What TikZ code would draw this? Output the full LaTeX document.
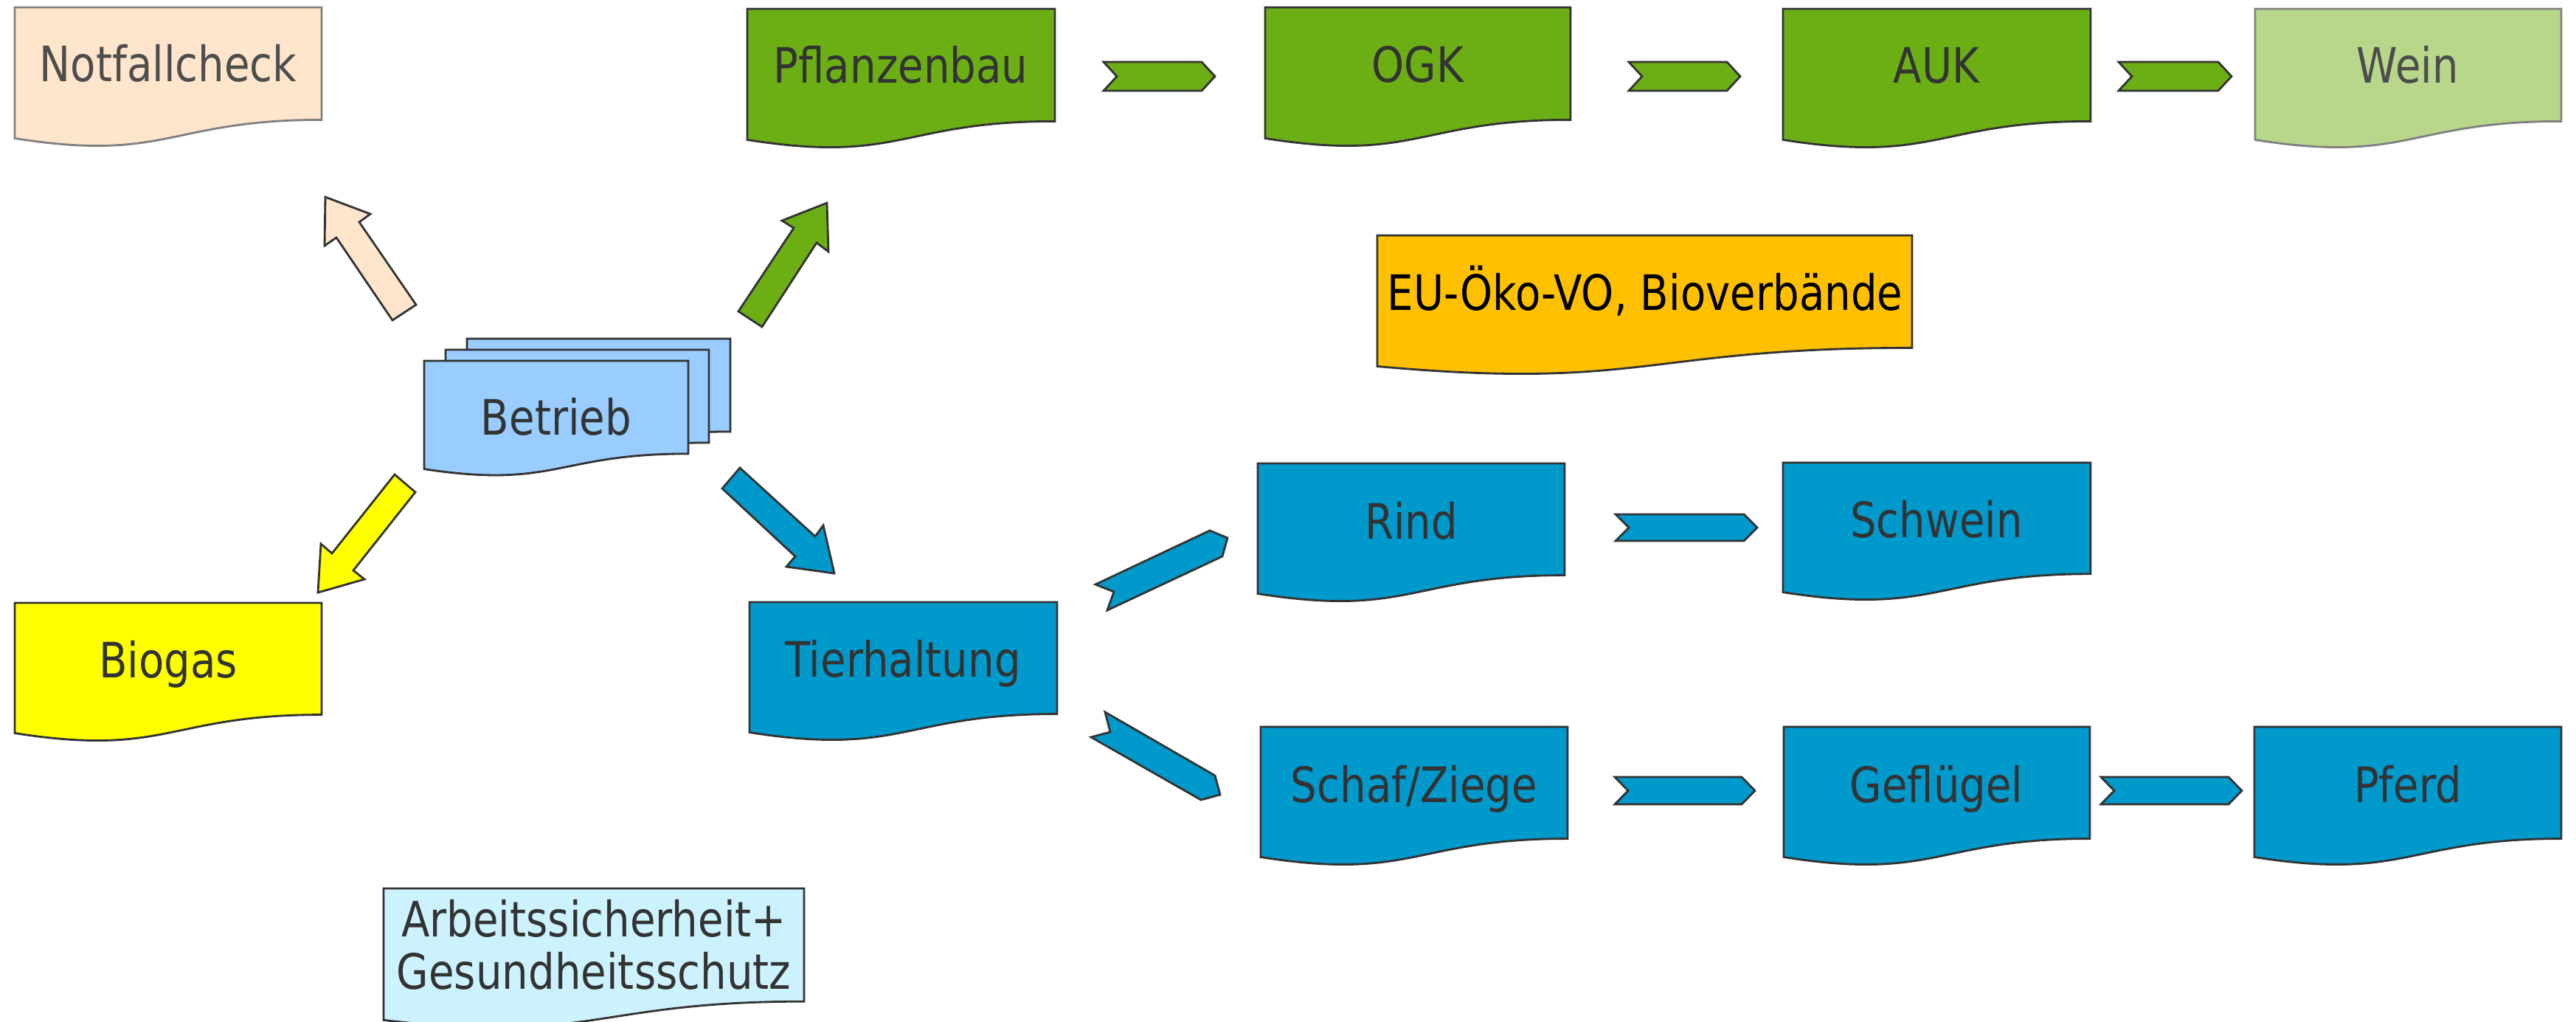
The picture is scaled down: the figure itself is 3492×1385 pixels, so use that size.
\documentclass[tikz,border=0pt]{standalone}
\usepackage{fontspec}
\setmainfont{DejaVu Sans}[FakeStretch=0.85]
\definecolor{peach}{HTML}{FFE5CC}
\definecolor{lgreen}{HTML}{6CAF15}
\definecolor{pgreen}{HTML}{B8D78B}
\definecolor{lblue}{HTML}{99CCFF}
\definecolor{tblue}{HTML}{0099CC}
\definecolor{orng}{HTML}{FFC000}
\definecolor{ycol}{HTML}{FFFF00}
\definecolor{cyanl}{HTML}{CCF2FF}
\definecolor{dk}{HTML}{333333}
\definecolor{gr}{HTML}{808080}
\definecolor{gtxt}{HTML}{4D4D4D}
\newcommand{\docpath}[4]{(#1,#2) -- ({#1+#3},#2) -- ({#1+#3},{#2+0.802*#4}) .. controls ({#1+0.5*#3},{#2+0.802*#4}) and ({#1+0.5*#3},{#2+1.107*#4}) .. (#1,{#2+0.934*#4}) -- cycle}
\newcommand{\chevpath}[5]{(#1,#2) -- ({#3-#5},#2) -- (#3,{0.5*#2+0.5*#4}) -- ({#3-#5},#4) -- (#1,#4) -- ({#1+#5},{0.5*#2+0.5*#4}) -- cycle}
\tikzset{
  shp/.style={draw=dk, line width=0.8pt, line join=miter},
  shpg/.style={draw=gr, line width=0.8pt},
  lbl/.style={anchor=base, inner sep=0pt, text=dk, font=\fontsize{18.8pt}{20.2pt}\selectfont},
  lblg/.style={lbl, text=gtxt},
}
\begin{document}
\begin{tikzpicture}[x=0.01cm, y=-0.01cm]
\useasboundingbox (0,0) rectangle (3492,1385);
% document shapes
\fill[peach, shpg] \docpath{20}{10}{416}{190};
\fill[lgreen, shp] \docpath{1013}{12}{417}{190};
\fill[lgreen, shp] \docpath{1715}{10}{414}{190};
\fill[lgreen, shp] \docpath{2417}{12}{417}{190};
\fill[pgreen, shpg] \docpath{3057}{12}{415}{190};
\fill[orng, shp] \docpath{1867}{319}{725}{190};
\fill[lblue, shp] \docpath{633}{459}{357}{157};
\fill[lblue, shp] \docpath{604}{474}{357}{157};
\fill[lblue, shp] \docpath{575}{489}{358}{157};
\fill[tblue, shp] \docpath{1705}{628}{416}{189};
\fill[tblue, shp] \docpath{2417}{627}{417}{188};
\fill[ycol, shp] \docpath{20}{817}{416}{189};
\fill[tblue, shp] \docpath{1016}{816}{417}{189};
\fill[tblue, shp] \docpath{1709}{985}{416}{189};
\fill[tblue, shp] \docpath{2418}{985}{415}{189};
\fill[tblue, shp] \docpath{3056}{985}{416}{189};
\fill[cyanl, shp] \docpath{520}{1204}{570}{191};
% chevrons
\fill[lgreen, shp] \chevpath{1496}{84}{1647}{123}{18};
\fill[lgreen, shp] \chevpath{2208}{84}{2359}{123}{18};
\fill[lgreen, shp] \chevpath{2872}{84}{3025}{123}{18};
\fill[tblue, shp] \chevpath{2190}{697}{2382}{733}{18};
\fill[tblue, shp] \chevpath{2189}{1053}{2379}{1090}{18};
\fill[tblue, shp] \chevpath{2848}{1053}{3039}{1090}{18};
% block arrows
\fill[peach, shp] (441,267) -- (502,290) -- (487,301) -- (564,413) -- (532,434) -- (456,322) -- (440,333) -- cycle;
\fill[lgreen, shp] (1121,275) -- (1123,341) -- (1107,329) -- (1033,443) -- (1001,422) -- (1076,309) -- (1060,299) -- cycle;
\fill[ycol, shp] (431,803) -- (494,785) -- (479,773) -- (563,667) -- (535,643) -- (450,750) -- (435,737) -- cycle;
\fill[tblue, shp] (1131,777) -- (1066,768) -- (1078,754) -- (979,662) -- (1003,634) -- (1105,727) -- (1116,712) -- cycle;
\fill[tblue, shp] (1485,792) -- (1510,802) -- (1501,827) -- (1657,754) -- (1664,729) -- (1640,719) -- cycle;
\fill[tblue, shp] (1498,965) -- (1505,992) -- (1479,999) -- (1628,1084) -- (1654,1077) -- (1647,1051) -- cycle;
% labels
\node[lblg] (notfall) at (228,111) {Notfallcheck};
\node[lbl] (pflanz) at (1221,113) {Pflanzenbau};
\node[lbl] (ogk) at (1922,112) {OGK};
\node[lbl] (auk) at (2625,113) {AUK};
\node[lblg] (wein) at (3264,113) {Wein};
\node[lbl, text=black] (eu) at (2230,421) {EU-Öko-VO, Bioverbände};
\node[lbl] (betrieb) at (754,590) {Betrieb};
\node[lbl] (rind) at (1913,730) {Rind};
\node[lbl] (schwein) at (2625,728) {Schwein};
\node[lbl] (biogas) at (228,918) {Biogas};
\node[lbl] (tier) at (1224,917) {Tierhaltung};
\node[lbl] (schaf) at (1917,1087) {Schaf/Ziege};
\node[lbl] (gefl) at (2625,1087) {Geflügel};
\node[lbl] (pferd) at (3264,1087) {Pferd};
\node[lbl, anchor=center, align=center] (arbeit) at (805,1280) {Arbeitssicherheit+\\Gesundheitsschutz};
\end{tikzpicture}
\end{document}
